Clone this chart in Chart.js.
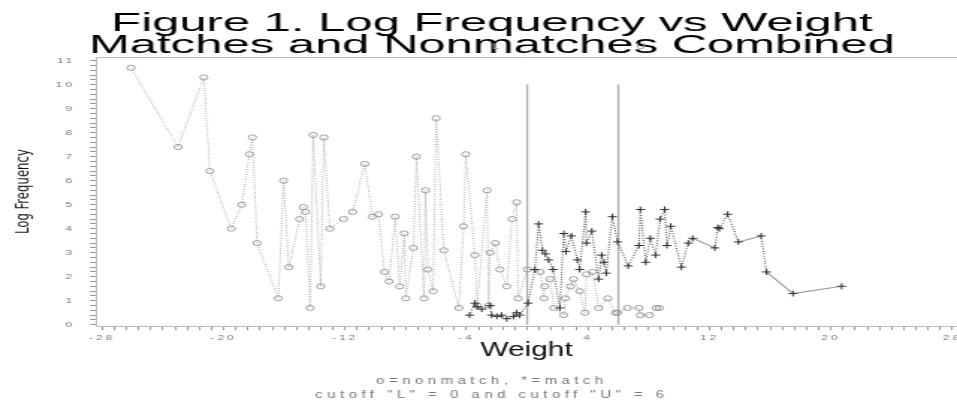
<!DOCTYPE html>
<html>
<head>
<meta charset="utf-8">
<title>Log Frequency vs Weight</title>
<script src="https://cdn.jsdelivr.net/npm/chart.js@4.4.1/dist/chart.umd.min.js"></script>
<style>
  html, body { margin: 0; padding: 0; background: #fff; }
  /* the original plot is wide and squat, so draw it at 640px and stretch it */
  #wrap { width: 957px; height: 400px; overflow: hidden; }
  #stretch { width: 640px; height: 400px; transform: scaleX(1.4953125); transform-origin: 0 0; }
</style>
</head>
<body>
<div id="wrap"><div id="stretch"><canvas id="freqChart" width="640" height="400"></canvas></div></div>
<script>
// data
// nonmatches (o)
const nonmatchWeight = [-26.1, -23.0, -21.3, -20.9, -19.5, -18.8, -18.3, -18.1, -17.8, -16.4,
  -16.05, -15.7, -15.0, -14.75, -14.6, -14.3, -14.1, -13.6, -13.4, -13.0,
  -12.1, -11.5, -10.7, -10.2, -9.8, -9.4, -9.1, -8.7, -8.4, -8.1,
  -8.0, -7.5, -7.3, -6.8, -6.7, -6.55, -6.2, -6.0, -5.5, -4.5,
  -4.2, -4.05, -3.45, -3.3, -2.65, -2.55, -2.45, -2.1, -1.8, -1.35,
  -1.0, -0.7, -0.6, 0.0, 0.85, 1.1, 1.15, 1.5, 1.75, 2.4,
  2.5, 2.85, 3.05, 3.45, 3.8, 3.9, 4.3, 4.7, 5.3, 5.8,
  5.95, 6.6, 7.35, 7.45, 8.05, 8.5, 8.7];
const nonmatchLogFreq = [10.7, 7.4, 10.3, 6.4, 4.0, 5.0, 7.1, 7.8, 3.4, 1.1,
  6.0, 2.4, 4.4, 4.9, 4.7, 0.7, 7.9, 1.6, 7.8, 4.0,
  4.4, 4.7, 6.7, 4.5, 4.6, 2.2, 1.8, 4.5, 1.6, 3.8,
  1.1, 3.2, 7.0, 1.1, 5.6, 2.3, 1.4, 8.6, 3.1, 0.7,
  4.1, 7.1, 2.9, 0.8, 5.6, 0.8, 3.0, 3.4, 2.3, 1.6,
  4.4, 5.1, 1.1, 2.3, 2.2, 1.1, 1.6, 1.9, 0.7, 0.4,
  1.1, 1.6, 1.9, 1.4, 0.5, 2.1, 2.2, 0.7, 1.1, 0.5,
  0.5, 0.7, 0.7, 0.4, 0.4, 0.7, 0.7];

// matches (*)
const matchWeight = [-3.8, -3.45, -3.3, -3.0, -2.45, -2.35, -2.0, -1.7, -1.35, -0.9,
  -0.7, -0.5, 0.05, 0.5, 0.75, 1.0, 1.2, 1.4, 1.7, 2.15,
  2.4, 2.55, 2.9, 3.3, 3.45, 3.85, 3.9, 4.25, 4.7, 4.9,
  5.05, 5.2, 5.6, 5.95, 6.65, 7.35, 7.45, 7.8, 8.1, 8.45,
  8.75, 9.05, 9.2, 9.45, 10.15, 10.6, 10.9, 12.35, 12.55, 12.65,
  13.2, 13.9, 15.4, 15.75, 17.5, 20.7];
const matchLogFreq = [0.4, 0.9, 0.75, 0.65, 0.8, 0.4, 0.35, 0.4, 0.25, 0.35,
  0.5, 0.4, 0.9, 2.3, 4.2, 3.1, 2.95, 2.7, 2.3, 0.7,
  3.8, 3.05, 3.7, 2.7, 2.3, 4.7, 3.4, 3.9, 1.9, 2.9,
  2.6, 2.15, 4.5, 3.45, 2.45, 3.3, 4.8, 2.6, 3.6, 2.9,
  4.4, 4.8, 3.3, 4.1, 2.4, 3.4, 3.6, 3.2, 4.05, 4.0,
  4.6, 3.45, 3.7, 2.2, 1.3, 1.6];

// cutoff lines
const cutoffValues = [0, 6];
const cutoffNames = ["L", "U"];
const cutoffTop = 10;

// texts
const titleLines = ["Figure 1. Log Frequency vs Weight", "Matches and Nonmatches Combined"];
const footLines = ["o=nonmatch, *=match", "cutoff \"L\" = 0 and cutoff \"U\" = 6"];

function toPoints(xs, ys) {
  return xs.map((x, i) => ({ x: x, y: ys[i] }));
}

// title, footnote, cutoff letters and the plot frame
const notesPlugin = {
  id: "notes",
  afterLayout(chart) {
    // let the plot run right up to the edge, the last label gets cut like in the original
    const area = chart.chartArea;
    const xs = chart.scales.x;
    xs.right = chart.width;
    xs.width = xs.right - xs.left;
    xs.configure();
    area.right = xs.right;
    area.width = area.right - area.left;
  },
  beforeDraw(chart) {
    chart.ctx.letterSpacing = "0px";
  },
  beforeDatasetsDraw(chart) {
    const { ctx, chartArea } = chart;
    const l = Math.round(chartArea.left) + 0.5;
    const t = Math.round(chartArea.top) + 0.5;
    const b = Math.round(chartArea.bottom) + 0.5;
    ctx.save();
    ctx.strokeStyle = "#bbb";
    ctx.lineWidth = 1;
    ctx.beginPath();
    ctx.moveTo(chartArea.right + 5, t);
    ctx.lineTo(l, t);
    ctx.lineTo(l, b);
    ctx.lineTo(chartArea.right + 5, b);
    ctx.stroke();
    ctx.restore();
  },
  afterDatasetsDraw(chart) {
    // tick labels are spaced out in the original
    chart.ctx.letterSpacing = "2px";
  },
  afterDraw(chart) {
    const ctx = chart.ctx;
    const xs = chart.scales.x;
    const cx = 329;
    ctx.save();
    ctx.letterSpacing = "0px";
    ctx.textAlign = "center";
    ctx.textBaseline = "alphabetic";

    // the title letters are wide in the original
    ctx.fillStyle = "#000";
    ctx.font = "26px 'Liberation Sans', Arial, sans-serif";
    titleLines.forEach((line, i) => {
      ctx.save();
      ctx.translate(cx, 31 + i * 22);
      ctx.scale(1.26, 1);
      ctx.fillText(line, 0, 0);
      ctx.restore();
    });

    ctx.fillStyle = "#999";
    ctx.font = "9px 'Liberation Sans', Arial, sans-serif";
    const shift = [-21, 15];
    cutoffValues.forEach((v, i) => {
      ctx.fillText(cutoffNames[i], xs.getPixelForValue(v) + shift[i], 49);
    });

    ctx.fillStyle = "#777";
    ctx.font = "10px 'Liberation Sans', Arial, sans-serif";
    ctx.letterSpacing = "3px";
    ctx.fillText(footLines[0], cx, 384);
    ctx.fillText(footLines[1], cx, 398);
    ctx.restore();
    ctx.letterSpacing = "0px";
  },
};

function createFrequencyChart() {
  const ctx = document.getElementById("freqChart").getContext("2d");

  const cutoffSets = cutoffValues.map((v) => ({
    data: [{ x: v, y: 0 }, { x: v, y: cutoffTop }],
    showLine: true,
    borderColor: "#aaa",
    borderWidth: 1.3,
    pointRadius: 0,
  }));

  const data = {
    datasets: [
      {
        label: "match",
        data: toPoints(matchWeight, matchLogFreq),
        showLine: true,
        borderColor: "#555",
        borderWidth: 1.1,
        borderDash: [1, 1.5],
        pointStyle: "cross",
        pointRadius: 3,
        pointBorderColor: "#333",
        pointBorderWidth: 1,
        segment: {
          // long jumps look like a thin plain line
          borderDash: (c) => (c.p1.parsed.x - c.p0.parsed.x > 1.2 ? [] : undefined),
          borderColor: (c) => (c.p1.parsed.x - c.p0.parsed.x > 1.2 ? "#999" : undefined),
        },
      },
      {
        label: "nonmatch",
        data: toPoints(nonmatchWeight, nonmatchLogFreq),
        showLine: true,
        borderColor: "#aaa",
        borderWidth: 1,
        borderDash: [1, 1.5],
        pointStyle: "circle",
        pointRadius: 2.6,
        pointBackgroundColor: "rgba(0,0,0,0)",
        pointBorderColor: "#888",
        pointBorderWidth: 0.8,
      },
      ...cutoffSets,
    ],
  };

  const config = {
    type: "scatter",
    data: data,
    plugins: [notesPlugin],
    options: {
      responsive: false,
      animation: false,
      events: [],
      layout: { padding: { top: 57, bottom: 28, left: 0, right: 0 } },
      plugins: {
        legend: { display: false },
        tooltip: { enabled: false },
      },
      scales: {
        x: {
          type: "linear",
          min: -28.4,
          max: 28.3,
          border: { display: false },
          grid: { drawOnChartArea: false, color: "#999", tickLength: 4 },
          ticks: {
            stepSize: 0.8,
            includeBounds: false,
            autoSkip: false,
            maxRotation: 0,
            padding: 3,
            z: 1,
            color: "#777",
            font: { family: "'Liberation Sans', Arial, sans-serif", size: 8 },
            callback: (v) => {
              const k = (v - 4) / 8;
              return Math.abs(k - Math.round(k)) < 1e-6 ? Math.round(v) : "";
            },
          },
          title: {
            display: true,
            text: "Weight",
            color: "#111",
            padding: { top: 0, bottom: 10 },
            font: { family: "'Liberation Sans', Arial, sans-serif", size: 20 },
          },
          afterFit: (scale) => {
            scale.height = 45.8;
            scale.paddingLeft = 0;
            scale.paddingRight = 0;
          },
        },
        y: {
          type: "linear",
          min: -0.06,
          max: 11.15,
          border: { display: false },
          grid: { drawOnChartArea: false, color: "#999", tickLength: 4 },
          ticks: {
            stepSize: 0.2,
            includeBounds: false,
            autoSkip: false,
            padding: 10,
            z: 1,
            color: "#777",
            font: { family: "'Liberation Sans', Arial, sans-serif", size: 8 },
            callback: (v) => (Math.abs(v - Math.round(v)) < 1e-6 ? Math.round(v) : ""),
          },
          title: {
            display: true,
            text: "Log Frequency",
            color: "#111",
            padding: { top: 7.5, bottom: 0 },
            font: { family: "'Liberation Sans Narrow', 'DejaVu Sans Condensed', sans-serif", size: 13 },
          },
          afterFit: (scale) => {
            scale.width = 64.2;
            scale.paddingTop = 0;
            scale.paddingBottom = 0;
          },
        },
      },
    },
  };

  const freqChart = new Chart(ctx, config);
}

createFrequencyChart();
</script>
</body>
</html>
